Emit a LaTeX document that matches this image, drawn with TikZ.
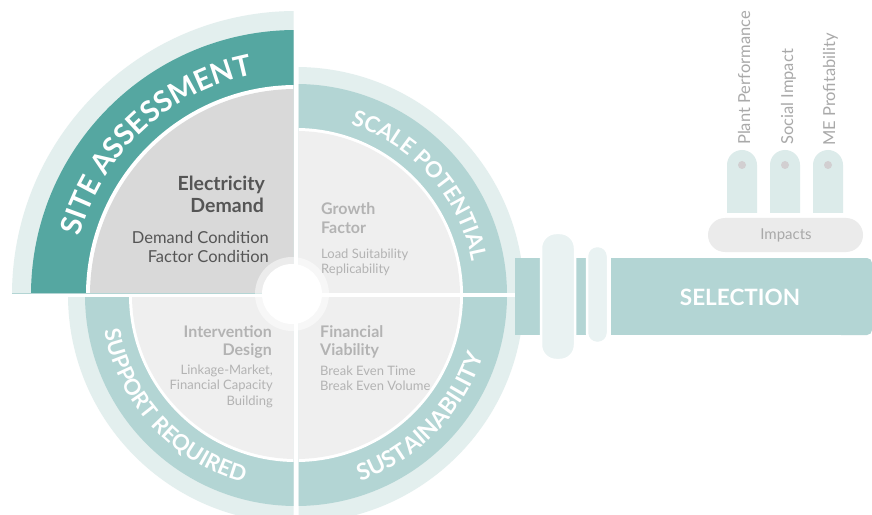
\documentclass[tikz,border=0pt]{standalone}
\usepackage{fontspec}
\setmainfont{Lato}
\usetikzlibrary{decorations.text}
\definecolor{dteal}{HTML}{55A7A1}
\definecolor{pteal}{HTML}{B3D5D4}
\definecolor{ringc}{HTML}{E3EFEE}
\definecolor{tlgray}{HTML}{D9D9D9}
\definecolor{lgray}{HTML}{EFEFEF}
\definecolor{dtext}{HTML}{555555}
\definecolor{ltext}{HTML}{B3B3B3}
\definecolor{connc}{HTML}{E9F2F2}
\definecolor{pillc}{HTML}{EBEBEB}
\definecolor{pillarc}{HTML}{DCEBEA}
\definecolor{dotc}{HTML}{D2CFD1}
\definecolor{vtext}{HTML}{A9A9A9}
\tikzset{
 tlhead/.style={text=dtext, font=\fontsize{19.5}{21}\selectfont\bfseries, inner sep=0},
 tlsub/.style={text=dtext, font=\fontsize{16.5}{18}\selectfont, inner sep=0},
 qhead/.style={text=ltext, font=\fontsize{16}{18}\selectfont\bfseries, inner sep=0},
 qsub/.style={text=ltext, font=\fontsize{13}{15}\selectfont, inner sep=0},
 vert/.style={text=vtext, font=\fontsize{16.5}{18}\selectfont, inner sep=0, rotate=90, anchor=base west},
 connbox/.style={fill=connc, draw=white, line width=2.5},
 pillarbox/.style={fill=pillarc},
}
\newcommand\arcfontA{\fontsize{29}{29}\selectfont\bfseries}
\newcommand\arcfontB{\fontsize{22}{22}\selectfont\bfseries}
\newcommand\arcfontC{\fontsize{23}{23}\selectfont\bfseries}
\begin{document}
\begin{tikzpicture}[x=1pt,y=1pt]
\useasboundingbox (-296,-219) rectangle (576,295);
\fill[white] (-296,-219) rectangle (576,295);

% top-left quadrant
\begin{scope}
\clip (-2.5,2.5) rectangle (-300,300);
\fill[ringc] (0,0) circle (284);
\fill[dteal] (0,0) circle (265);
\fill[white] (0,0) circle (210);
\fill[tlgray] (0,0) circle (206);
\end{scope}
\draw[pteal, line width=1] (-284,1.8) -- (-2.5,1.8);

% other quadrants
\foreach \cx/\cy/\dx/\dy in {2.5/2.5/300/300, -2.5/-2.5/-300/-300, 2.5/-2.5/300/-300}{
\begin{scope}
\clip (\cx,\cy) rectangle (\dx,\dy);
\fill[ringc] (0,0) circle (228);
\fill[pteal] (0,0) circle (211);
\fill[white] (0,0) circle (167);
\fill[lgray] (0,0) circle (164);
\end{scope}
}

% hub
\fill[white, opacity=0.5] (-4,1) circle (37);
\fill[white] (-4,1) circle (30);

% arc texts
\path[decorate, decoration={text along path, text align=center, text color=white,
  text={|\arcfontA|SITE ASSESSMENT}}]
  (175:224) arc[start angle=175, end angle=91, radius=224];
\path[decorate, decoration={text along path, text align=center, text color=white,
  text={|\arcfontB|SCALE POTENTIAL}}]
  (82:179) arc[start angle=82, end angle=1, radius=179];
\path[decorate, decoration={text along path, text align=center, text color=white,
  text={|\arcfontC|SUSTAINABILITY}}]
  (-88:197) arc[start angle=-88, end angle=-1, radius=197];
\path[decorate, decoration={text along path, text align=center, text color=white,
  text={|\arcfontB|SUPPORT REQUIRED}}]
  (178:195) arc[start angle=178, end angle=267, radius=195];

% quadrant texts
\node[tlhead, anchor=base east] (e1) at (-31,104) {Electricity};
\node[tlhead, anchor=base east] (e2) at (-32,82) {Demand};
\node[tlsub, anchor=base east] (e3) at (-27,52) {Demand Condition};
\node[tlsub, anchor=base east] (e4) at (-27,33) {Factor Condition};

\node[qhead, anchor=base west] (g1) at (25,80) {Growth};
\node[qhead, anchor=base west] (g2) at (25,62) {Factor};
\node[qsub, anchor=base west] (g3) at (25,37) {Load Suitability};
\node[qsub, anchor=base west] (g4) at (25,22) {Replicability};

\node[qhead, anchor=base east] (i1) at (-24,-42) {Intervention};
\node[qhead, anchor=base east] (i2) at (-24,-60) {Design};
\node[qsub, anchor=base east] (i3) at (-23,-79) {Linkage-Market,};
\node[qsub, anchor=base east] (i4) at (-23,-94) {Financial Capacity};
\node[qsub, anchor=base east] (i5) at (-23,-110) {Building};

\node[qhead, anchor=base west] (f1) at (24,-42) {Financial};
\node[qhead, anchor=base west] (f2) at (24,-60) {Viability};
\node[qsub, anchor=base west] (f3) at (24,-80) {Break Even Time};
\node[qsub, anchor=base west] (f4) at (24,-95) {Break Even Volume};

% selection bar
\fill[pteal] (219,37) rectangle (560,-40);
\fill[pteal, rounded corners=5] (540,37) rectangle (576,-40);
\filldraw[connbox, rounded corners=15] (245,62) rectangle (279,-65);
\filldraw[connbox, rounded corners=10] (291,49) rectangle (312,-48);
\draw[white, line width=2] (313.5,37) -- (313.5,-40);
\node[font=\fontsize{22.5}{25}\selectfont\bfseries, text=white] (sel) at (444,-2) {SELECTION};

% impacts
\fill[pillc, rounded corners=17] (412,77) rectangle (567,43);
\node[text=vtext, font=\fontsize{15}{17}\selectfont] (imp) at (490,60) {Impacts};

\foreach \px/\nm in {431/pa, 474/pb, 517/pc}{
  \fill[pillarbox] (\px,82) -- (\px,130) arc[start angle=180, end angle=0, radius=15] -- (\px+30,82) -- cycle;
  \fill[dotc] (\px+15,130) circle (4);
}
\node[vert] (v1) at (454,150) {Plant Performance};
\node[vert] (v2) at (497,150) {Social Impact};
\node[vert] (v3) at (539,149) {ME Profitability};
\end{tikzpicture}
\end{document}
